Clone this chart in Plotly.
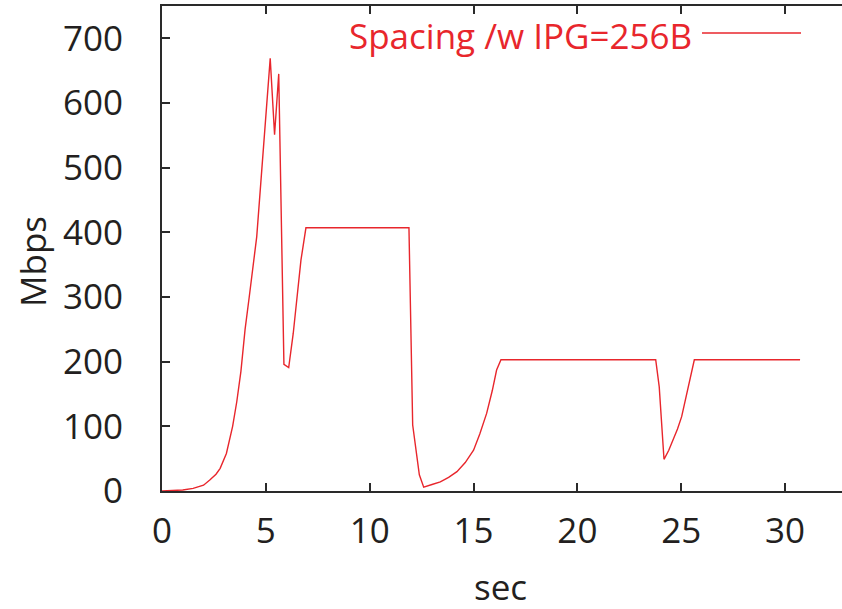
import plotly.graph_objects as go

sec = [0, 0.5, 1.0, 1.5, 2.0, 2.3, 2.6, 2.8, 3.1, 3.4, 3.6, 3.8, 4.0, 4.2, 4.4, 4.56,
       5.21, 5.42, 5.62, 5.87, 6.1, 6.32, 6.69, 6.93, 11.89, 12.07, 12.39, 12.6,
       13.0, 13.4, 13.8, 14.2, 14.6, 15.0, 15.3, 15.63, 15.9, 16.11, 16.32,
       23.77, 23.94, 24.17, 24.4, 24.62, 24.82, 25.02, 25.18, 25.34, 25.5, 25.63, 30.72]
mbps = [0, 0.5, 1.5, 4, 9, 17, 26, 35, 58, 100, 138, 185, 250, 300, 355, 393,
        669, 551, 645, 196, 191, 244, 357, 407, 407, 102, 25, 6,
        10, 14, 21, 30, 44, 63, 88, 120, 155, 187, 203,
        203, 161, 49, 63, 79, 96, 115, 138, 166, 188, 203, 203]
series_name = "Spacing /w IPG=256B"
x_ticks = [0, 5, 10, 15, 20, 25, 30]
y_ticks = [0, 100, 200, 300, 400, 500, 600, 700]

RED = "#e8262c"
AX = "#2a2a2a"
FONT = "Open Sans, Noto Sans, sans-serif"
FS = 35

fig = go.Figure()
fig.add_trace(go.Scatter(x=sec, y=mbps, mode="lines", line=dict(color=RED, width=1.4),
                         showlegend=False, name=series_name))

W, H = 842, 609
L, T, B, R = 162, 6, 118, 0
fig.update_layout(
    width=W, height=H, margin=dict(l=L, r=R, t=T, b=B),
    paper_bgcolor="white", plot_bgcolor="white",
    font=dict(family=FONT, size=FS, color="#231f20"),
    xaxis=dict(range=[0, 32.74], tickvals=x_ticks, ticks="inside", ticklen=8, tickwidth=1.5,
               tickcolor=AX, showline=True, linecolor=AX, linewidth=2, mirror="allticks",
               showgrid=False, zeroline=False, ticklabelstandoff=8,
               tickfont=dict(size=FS)),
    yaxis=dict(range=[0, 750], tickvals=y_ticks, ticks="inside", ticklen=8, tickwidth=1.5,
               tickcolor=AX, showline=True, linecolor=AX, linewidth=2, mirror=False,
               showgrid=False, zeroline=False, ticklabelstandoff=30,
               tickfont=dict(size=FS)),
)

pw = W - L - R
ph = H - T - B
def px_to_paper(px, py):
    return (px - L) / pw, (H - B - py) / ph

ax_, ay_ = px_to_paper(32, 262)
fig.add_annotation(text="Mbps", x=ax_, y=ay_, xref="paper", yref="paper", showarrow=False,
                   textangle=-90, xanchor="center", yanchor="middle", font=dict(size=FS))
sx, sy = px_to_paper(500, 586)
fig.add_annotation(text="sec", x=sx, y=sy, xref="paper", yref="paper", showarrow=False,
                   xanchor="center", yanchor="middle", font=dict(size=FS))

lx, ly = px_to_paper(694, 35)
fig.add_annotation(text=series_name, x=lx, y=ly, xref="paper", yref="paper", showarrow=False,
                   xanchor="right", yanchor="middle", font=dict(size=FS, color=RED))
x0, y0 = px_to_paper(702, 33)
x1, _ = px_to_paper(801, 33)
fig.add_shape(type="line", xref="paper", yref="paper", x0=x0, x1=x1, y0=y0, y1=y0,
              line=dict(color=RED, width=1.4))

fig.write_html("out.html")
